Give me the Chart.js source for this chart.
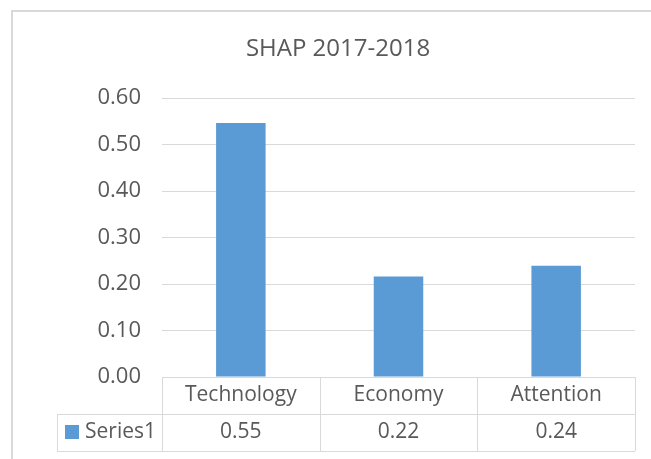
<!DOCTYPE html>
<html>
<head>
<meta charset="utf-8">
<script src="https://cdn.jsdelivr.net/npm/chart.js@4"></script>
<style>
  html, body { margin: 0; padding: 0; background: #fff; }
  canvas { display: block; }
</style>
</head>
<body>
<canvas id="shapChart" width="651" height="459"></canvas>
<script>
const title = 'SHAP 2017-2018';
const categories = ['Technology', 'Economy', 'Attention'];
const seriesName = 'Series1';
const values = [0.546, 0.216, 0.239];
const yMin = 0;
const yMax = 0.6;
const yStep = 0.1;

const barColor = '#5b9bd5';
const lineColor = '#d9d9d9';
const textColor = '#595959';
const fontFamily = "'Open Sans', sans-serif";

Chart.defaults.font.family = fontFamily;
Chart.defaults.color = textColor;

/* ========== frame, title and data table under the plot ========== */
const dataTable = {
  id: 'dataTable',
  afterDraw(chart) {
    const ctx = chart.ctx;
    const area = chart.chartArea;
    const x = chart.scales.x;
    const cellW = (area.right - area.left) / categories.length;
    const keyLeft = 57;
    const row1 = area.bottom;
    const row2 = row1 + 37;
    const row3 = row2 + 37;

    ctx.save();
    // chart border (top + left only, the rest is cut off)
    ctx.strokeStyle = lineColor;
    ctx.lineWidth = 2;
    ctx.beginPath();
    ctx.moveTo(12, 459);
    ctx.lineTo(12, 11);
    ctx.lineTo(651, 11);
    ctx.stroke();

    // title, centred like Excel does it
    ctx.fillStyle = textColor;
    ctx.font = '24px ' + fontFamily;
    ctx.textAlign = 'center';
    ctx.textBaseline = 'middle';
    ctx.fillText(title, 338, 49);

    ctx.lineWidth = 1;
    ctx.beginPath();
    ctx.moveTo(area.left, row1 + 0.5);
    ctx.lineTo(area.right, row1 + 0.5);
    ctx.moveTo(keyLeft, row2 + 0.5);
    ctx.lineTo(area.right, row2 + 0.5);
    ctx.moveTo(keyLeft, row3 + 0.5);
    ctx.lineTo(area.right, row3 + 0.5);
    ctx.moveTo(keyLeft + 0.5, row2);
    ctx.lineTo(keyLeft + 0.5, row3);
    for (let i = 0; i <= categories.length; i++) {
      const px = Math.round(area.left + i * cellW) + 0.5;
      ctx.moveTo(px, row1);
      ctx.lineTo(px, row3);
    }
    ctx.stroke();

    ctx.font = '21px ' + fontFamily;
    categories.forEach((c, i) => {
      const cx = x.getPixelForValue(i);
      ctx.fillText(c, cx, (row1 + row2) / 2);
      ctx.fillText(values[i].toFixed(2), cx, (row2 + row3) / 2);
    });

    // legend key
    ctx.fillStyle = barColor;
    ctx.fillRect(65, 425, 14, 14);
    ctx.fillStyle = textColor;
    ctx.textAlign = 'left';
    ctx.fillText(seriesName, 85, (row2 + row3) / 2);
    ctx.restore();
  }
};

new Chart(document.getElementById('shapChart'), {
  type: 'bar',
  data: {
    labels: categories,
    datasets: [{
      label: seriesName,
      data: values,
      backgroundColor: barColor,
      barPercentage: 0.314,
      categoryPercentage: 1
    }]
  },
  options: {
    responsive: false,
    animation: false,
    layout: { padding: { top: 98, left: 0, right: 16, bottom: 82 } },
    plugins: {
      legend: { display: false },
      tooltip: { enabled: false },
      title: { display: false }
    },
    scales: {
      x: { display: false },
      y: {
        min: yMin,
        max: yMax,
        ticks: {
          stepSize: yStep,
          padding: 21,
          color: textColor,
          font: { size: 22 },
          callback: v => v.toFixed(2)
        },
        grid: { color: lineColor, lineWidth: 1, drawTicks: false },
        border: { display: false },
        afterFit(scale) { scale.width = 162; }
      }
    }
  },
  plugins: [dataTable]
});
</script>
</body>
</html>
